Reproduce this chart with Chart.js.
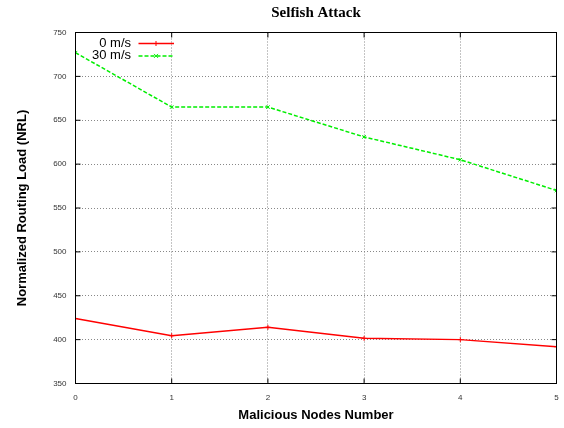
<!DOCTYPE html>
<html>
<head>
<meta charset="utf-8">
<script src="https://cdn.jsdelivr.net/npm/chart.js@4/dist/chart.umd.min.js"></script>
<style>
  html, body { margin: 0; padding: 0; background: #fff; }
  #wrap { width: 564px; height: 428px; }
</style>
</head>
<body>
<div id="wrap"><canvas id="chart"></canvas></div>
<script>
// values
const nodes = [0, 1, 2, 3, 4, 5];
const speed0 = [424, 404.5, 414, 401.5, 400, 392];
const speed30 = [727, 665, 665, 631, 605, 570];
const yTicks = [350, 400, 450, 500, 550, 600, 650, 700, 750];

// gnuplot style legend: text on the left, line sample on the right
const keyPlugin = {
    id: 'gnuKey',
    afterDatasetsDraw(chart) {
        const ctx = chart.ctx;
        const area = chart.chartArea;
        ctx.save();
        chart.data.datasets.forEach((ds, i) => {
            const y = area.top + 11 + i * 12.4;
            ctx.font = '13px "Liberation Sans", Arial, sans-serif';
            ctx.fillStyle = '#000';
            ctx.textAlign = 'right';
            ctx.textBaseline = 'middle';
            ctx.fillText(ds.label, area.left + 55.5, y);
            ctx.strokeStyle = ds.borderColor;
            ctx.lineWidth = ds.borderWidth;
            ctx.setLineDash(ds.borderDash || []);
            ctx.beginPath();
            ctx.moveTo(area.left + 63, y);
            ctx.lineTo(area.left + 98.5, y);
            ctx.stroke();
            ctx.setLineDash([]);
            ctx.lineWidth = 1;
            const cx = area.left + 80.5;
            ctx.beginPath();
            if (ds.pointStyle === 'cross') {
                ctx.moveTo(cx - 2.5, y); ctx.lineTo(cx + 2.5, y);
                ctx.moveTo(cx, y - 2.5); ctx.lineTo(cx, y + 2.5);
            } else {
                ctx.moveTo(cx - 2, y - 2); ctx.lineTo(cx + 2, y + 2);
                ctx.moveTo(cx - 2, y + 2); ctx.lineTo(cx + 2, y - 2);
            }
            ctx.stroke();
        });
        ctx.restore();
    }
};

// black frame with small inward ticks on all four sides
const framePlugin = {
    id: 'frame',
    afterDraw(chart) {
        const a = chart.chartArea;
        const c = chart.ctx;
        const xs = chart.scales.x;
        const ys = chart.scales.y;
        c.save();
        c.strokeStyle = '#000';
        c.lineWidth = 1;
        c.strokeRect(a.left, a.top, a.right - a.left, a.bottom - a.top);
        c.beginPath();
        nodes.forEach(v => {
            const px = xs.getPixelForValue(v);
            c.moveTo(px, a.bottom); c.lineTo(px, a.bottom - 5);
            c.moveTo(px, a.top); c.lineTo(px, a.top + 5);
        });
        yTicks.forEach(v => {
            const py = ys.getPixelForValue(v);
            c.moveTo(a.left, py); c.lineTo(a.left + 5, py);
            c.moveTo(a.right, py); c.lineTo(a.right - 5, py);
        });
        c.stroke();
        c.restore();
    }
};

const ctx = document.getElementById('chart').getContext('2d');
new Chart(ctx, {
    type: 'line',
    data: {
        labels: nodes,
        datasets: [
            {
                label: '0 m/s',
                data: speed0,
                borderColor: '#ff0000',
                backgroundColor: '#ff0000',
                borderWidth: 1.5,
                pointStyle: 'cross',
                pointRadius: 2.5,
                pointBorderWidth: 1,
                tension: 0
            },
            {
                label: '30 m/s',
                data: speed30,
                borderColor: '#00ee00',
                backgroundColor: '#00ee00',
                borderWidth: 1.5,
                borderDash: [4, 2],
                pointStyle: 'crossRot',
                pointRadius: 2.5,
                pointBorderWidth: 1,
                tension: 0
            }
        ]
    },
    options: {
        responsive: true,
        maintainAspectRatio: false,
        animation: false,
        layout: { padding: { left: 0, right: 7.5, top: 0, bottom: 0 } },
        plugins: {
            legend: { display: false },
            tooltip: { enabled: false },
            title: {
                display: true,
                fullSize: false,
                text: 'Selfish Attack',
                color: '#000',
                font: { family: '"Liberation Serif", "Times New Roman", serif', size: 15, weight: 'bold' },
                padding: { top: 4, bottom: 10.5 }
            }
        },
        scales: {
            x: {
                type: 'linear',
                min: 0,
                max: 5,
                afterBuildTicks: (scale) => { scale.ticks = nodes.map(v => ({ value: v })); },
                afterFit: (scale) => {
                    scale.height = 44.5;
                    scale.paddingLeft = 0;
                    scale.paddingRight = 0;
                },
                grid: { color: '#888', drawTicks: false },
                border: { display: true, color: '#000', width: 1, dash: [1, 2] },
                ticks: {
                    color: '#333',
                    padding: 9,
                    maxRotation: 0,
                    font: { family: '"Liberation Sans", Arial, sans-serif', size: 8 }
                },
                title: {
                    display: true,
                    text: 'Malicious Nodes Number',
                    color: '#000',
                    font: { family: '"Liberation Sans", Arial, sans-serif', size: 13, weight: 'bold' },
                    padding: { top: 4, bottom: 5 }
                }
            },
            y: {
                min: 350,
                max: 750,
                afterBuildTicks: (scale) => { scale.ticks = yTicks.map(v => ({ value: v })); },
                afterFit: (scale) => {
                    scale.width = 75.5;
                    scale.paddingTop = 0;
                    scale.paddingBottom = 0;
                },
                grid: { color: '#888', drawTicks: false },
                border: { display: true, color: '#000', width: 1, dash: [1, 2] },
                ticks: {
                    color: '#333',
                    padding: 9,
                    font: { family: '"Liberation Sans", Arial, sans-serif', size: 8 }
                },
                title: {
                    display: true,
                    text: 'Normalized Routing Load (NRL)',
                    color: '#000',
                    font: { family: '"Liberation Sans", Arial, sans-serif', size: 13, weight: 'bold' },
                    padding: { top: 15, bottom: 4 }
                }
            }
        }
    },
    plugins: [keyPlugin, framePlugin]
});
</script>
</body>
</html>
